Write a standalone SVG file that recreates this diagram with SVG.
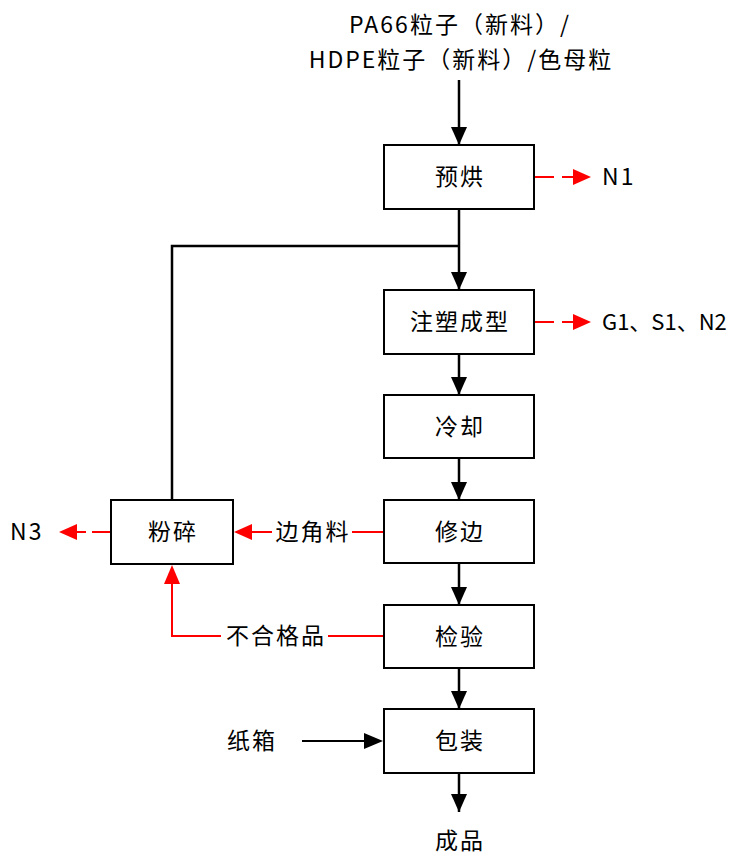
<svg xmlns="http://www.w3.org/2000/svg" width="743" height="857" viewBox="0 0 743 857">
<style>
.box{fill:#fff;stroke:#000;stroke-width:2}
.t{font-family:"Noto Sans CJK SC","Liberation Sans",sans-serif;font-size:23px;letter-spacing:2px;fill:#000}
.c{text-anchor:middle}
.k{stroke:#000;stroke-width:2.5;fill:none}
.r{stroke:#f00;stroke-width:2;fill:none}
</style>
<g id="connectors">
<line class="k" x1="459" y1="80" x2="459" y2="145" />
<path d="M451,127 L467,127 L459,145 Z" fill="#000"/>
<line class="k" x1="459" y1="209" x2="459" y2="290"/>
<path d="M451,272 L467,272 L459,290 Z" fill="#000"/>
<polyline class="k" points="172,500 172,246 459,246"/>
<line class="k" x1="459" y1="354" x2="459" y2="395"/>
<path d="M451,377 L467,377 L459,395 Z" fill="#000"/>
<line class="k" x1="459" y1="458" x2="459" y2="500"/>
<path d="M451,482 L467,482 L459,500 Z" fill="#000"/>
<line class="k" x1="459" y1="563" x2="459" y2="605"/>
<path d="M451,587 L467,587 L459,605 Z" fill="#000"/>
<line class="k" x1="459" y1="668" x2="459" y2="709"/>
<path d="M451,691 L467,691 L459,709 Z" fill="#000"/>
<line class="k" x1="459" y1="773" x2="459" y2="812"/>
<path d="M451,794 L467,794 L459,812 Z" fill="#000"/>
<line stroke="#000" stroke-width="2" x1="302" y1="741" x2="366" y2="741"/>
<path d="M364,733 L383,741 L364,749 Z" fill="#000"/>
<line class="r" x1="534" y1="177" x2="554" y2="177"/>
<line class="r" x1="562" y1="177" x2="576" y2="177"/>
<path d="M573,169 L591,177 L573,185 Z" fill="#f00"/>
<line class="r" x1="534" y1="322" x2="554" y2="322"/>
<line class="r" x1="562" y1="322" x2="576" y2="322"/>
<path d="M573,314 L591,322 L573,330 Z" fill="#f00"/>
<line class="r" x1="384" y1="532" x2="352" y2="532"/>
<line class="r" x1="272" y1="532" x2="250" y2="532"/>
<path d="M252,524 L234,532 L252,540 Z" fill="#f00"/>
<line class="r" x1="111" y1="532" x2="92" y2="532"/>
<line class="r" x1="86" y1="532" x2="74" y2="532"/>
<path d="M77,524 L59,532 L77,540 Z" fill="#f00"/>
<polyline class="r" points="384,636 328,636"/>
<polyline class="r" points="221,636 172,636 172,583"/>
<path d="M164,584 L172,565 L180,584 Z" fill="#f00"/>
</g>
<g id="n_input"><text class="t c" x="460" y="33">PA66粒子（新料）/</text><text class="t c" x="461" y="68">HDPE粒子（新料）/色母粒</text></g>
<g id="n_yuhong"><rect class="box" x="384" y="145" width="150" height="64"/><text class="t c" x="460" y="185">预烘</text></g>
<g id="n_zhusu"><rect class="box" x="384" y="290" width="150" height="64"/><text class="t c" x="460" y="330">注塑成型</text></g>
<g id="n_lengque"><rect class="box" x="384" y="395" width="150" height="63"/><text class="t c" x="460" y="435">冷却</text></g>
<g id="n_xiubian"><rect class="box" x="384" y="500" width="150" height="63"/><text class="t c" x="460" y="540">修边</text></g>
<g id="n_jianyan"><rect class="box" x="384" y="605" width="150" height="63"/><text class="t c" x="460" y="645">检验</text></g>
<g id="n_baozhuang"><rect class="box" x="384" y="709" width="150" height="64"/><text class="t c" x="460" y="749">包装</text></g>
<g id="n_fensui"><rect class="box" x="111" y="500" width="122" height="64"/><text class="t c" x="173" y="540">粉碎</text></g>
<g id="n_N1"><text class="t" x="602" y="185">N1</text></g>
<g id="n_G1"><text class="t" x="602" y="330" style="font-size:22px;letter-spacing:0">G1、S1、N2</text></g>
<g id="n_N3"><text class="t" x="10" y="540">N3</text></g>
<g id="l_bianjiao"><text class="t c" x="313" y="540">边角料</text></g>
<g id="l_buhege"><text class="t c" x="276" y="644">不合格品</text></g>
<g id="n_zhixiang"><text class="t" x="227" y="749">纸箱</text></g>
<g id="n_chengpin"><text class="t c" x="460" y="849">成品</text></g>
</svg>
